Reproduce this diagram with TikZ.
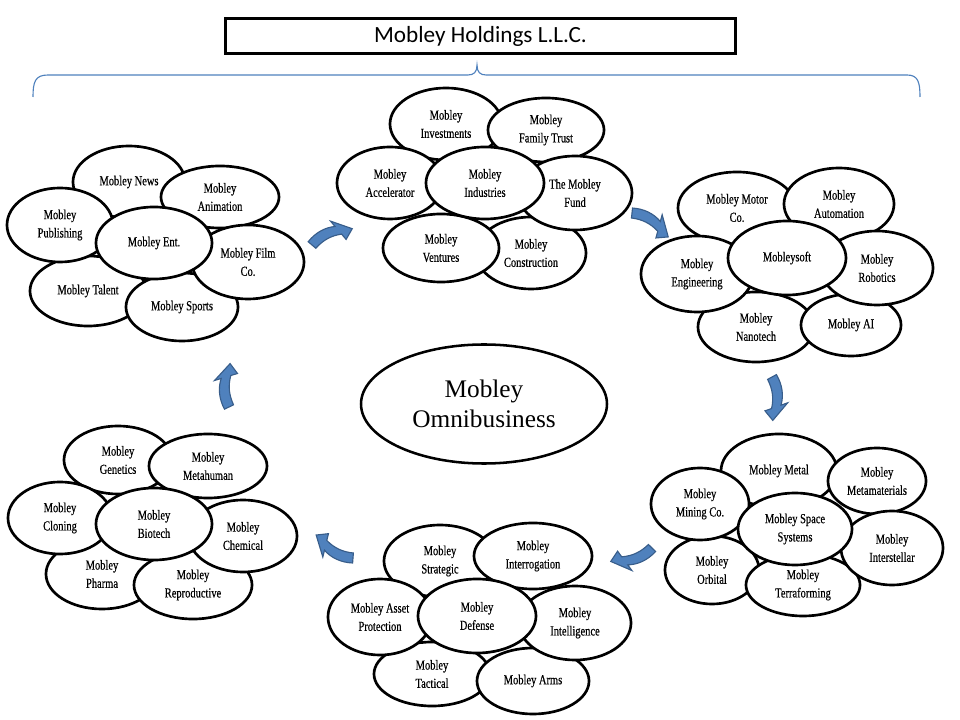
\documentclass[tikz,border=0pt]{standalone}
\usepackage{fontspec}
\setmainfont{Liberation Serif}
\newfontfamily\bubfont[FakeStretch=0.76,FakeBold=0.4]{Liberation Serif}
\newfontfamily\titlefont{Carlito}
\usetikzlibrary{shapes.geometric}
\definecolor{arrowfill}{HTML}{4F81BD}
\definecolor{arrowline}{HTML}{385D8A}
\def\cyclearrow(#1)(#2){\begin{scope}[shift={(#1)}, rotate=#2]
	\filldraw[cyclebody] (-2.2,-4.5) .. controls (8,-10) and (19,-11) .. (28.5,-7.8) -- (26.5,-14.5) -- (43.4,1.1) -- (33.5,8.5) -- (31.5,1.8) .. controls (21,-1) and (12,0) .. (2.2,4.5) -- cycle;
	\end{scope}}

\begin{document}
\begin{tikzpicture}[x=0.025cm, y=-0.025cm,
		bub/.style 2 args={ellipse, draw, fill=white, line width=1.9pt, inner sep=0pt, align=center,
			font=\bubfont\fontsize{9.8}{13}\selectfont,
			minimum width={(#1-1)*0.05cm}, minimum height={(#2-1)*0.05cm}},
		cyclebody/.style={fill=arrowfill, draw=arrowline, line width=0.8pt},
		brace/.style={draw=arrowfill, line width=0.8pt}]
			%%%%% START %%%%%
			
			\useasboundingbox (0,0) rectangle (960,720);
			
			\node[draw, line width=2.2pt, minimum width=510*0.025cm, minimum height=35*0.025cm,
				font=\titlefont\fontsize{16.5}{20}\selectfont] (holdings) at (480.5,36) {Mobley Holdings L.L.C.};
			\draw[brace] (33,97) .. controls (33,82) and (35,75) .. (48,75) -- (468,75) .. controls (474,75) and (477,72) .. (477,65)
				.. controls (477,72) and (480,75) .. (486,75) -- (907,75) .. controls (918,75) and (920,82) .. (920,97);
			
			% entertainment
			\node[bub={57}{37}] (news) at (129,182) {Mobley News};
			\node[bub={60}{32}] (anim) at (220,197) {Mobley\\Animation};
			\node[bub={59}{36}] (talent) at (88,291) {Mobley Talent};
			\node[bub={57}{35}] (sports) at (182,307) {Mobley Sports};
			\node[bub={54}{38}] (pub) at (60,225) {Mobley\\Publishing};
			\node[bub={57}{38}] (film) at (248,262) {Mobley Film\\Co.};
			\node[bub={59}{37}] (ent) at (154,243) {Mobley Ent.};
			
			% industries
			\node[bub={57}{37}] (invest) at (446,124) {Mobley\\Investments};
			\node[bub={59}{33}] (trust) at (546,130) {Mobley\\Family Trust};
			\node[bub={56}{37}] (constr) at (531,253) {Mobley\\Construction};
			\node[bub={58}{38}] (fund) at (575,193) {The Mobley\\Fund};
			\node[bub={59}{35}] (vent) at (441,248) {Mobley\\Ventures};
			\node[bub={54}{37}] (accel) at (390,183) {Mobley\\Accelerator};
			\node[bub={60}{37}] (ind) at (485,183) {Mobley\\Industries};
			
			% mobleysoft
			\node[bub={60}{37}] (motor) at (737,208) {Mobley Motor\\Co.};
			\node[bub={56}{37}] (autom) at (839,204) {Mobley\\Automation};
			\node[bub={59}{36}] (nano) at (756,327) {Mobley\\Nanotech};
			\node[bub={51}{32}] (ai) at (851,325) {Mobley AI};
			\node[bub={57}{39}] (engin) at (697,274) {Mobley\\Engineering};
			\node[bub={57}{38}] (robot) at (877,268) {Mobley\\Robotics};
			\node[bub={60}{38}] (soft) at (787,258) {Mobleysoft};
			
			% space
			\node[bub={59}{38}] (metal) at (779,471) {Mobley Metal};
			\node[bub={50}{34}] (metam) at (877,481) {Mobley\\Metamaterials};
			\node[bub={48}{35}] (orbit) at (712,570) {Mobley\\Orbital};
			\node[bub={58}{32}] (terra) at (803,585) {Mobley\\Terraforming};
			\node[bub={50}{37}] (mining) at (700,504) {Mobley\\Mining Co.};
			\node[bub={52}{38}] (inter) at (892,548) {Mobley\\Interstellar};
			\node[bub={58}{37}] (space) at (795,529) {Mobley Space\\Systems};
			
			% defense
			\node[bub={57}{37}] (strat) at (440,561) {Mobley\\Strategic};
			\node[bub={60}{34}] (interr) at (533,556) {Mobley\\Interrogation};
			\node[bub={59}{33}] (tact) at (432,674) {Mobley\\Tactical};
			\node[bub={57}{34}] (arms) at (533,681) {Mobley Arms};
			\node[bub={53}{39}] (asset) at (380,617) {Mobley Asset\\Protection};
			\node[bub={57}{38}] (intel) at (575,623) {Mobley\\Intelligence};
			\node[bub={60}{38}] (def) at (477,616) {Mobley\\Defense};
			
			% biotech
			\node[bub={55}{35}] (genet) at (118,460) {Mobley\\Genetics};
			\node[bub={60}{33}] (metah) at (208,466) {Mobley\\Metahuman};
			\node[bub={57}{36}] (pharma) at (102,574) {Mobley\\Pharma};
			\node[bub={60}{35}] (repro) at (193,585) {Mobley\\Reproductive};
			\node[bub={53}{37}] (clon) at (60,518) {Mobley\\Cloning};
			\node[bub={55}{37}] (chem) at (243,536) {Mobley\\Chemical};
			\node[bub={59}{37}] (bio) at (154,524) {Mobley\\Biotech};
			
			\node[ellipse, draw, line width=1.8pt, inner sep=0pt, align=center, minimum width=246*0.025cm, minimum height=119*0.025cm,
				font=\fontsize{18}{21}\selectfont] (omni) at (484,404) {Mobley\\Omnibusiness};
			
			\cyclearrow(312,245)(23.5)
			\cyclearrow(632,213)(-32)
			\cyclearrow(772,377)(-87.5)
			\cyclearrow(652,548)(199.5)
			\cyclearrow(353,558)(149.5)
			\cyclearrow(229,407)(90)
			
			%%%%% END %%%%%
\end{tikzpicture}
\end{document}
